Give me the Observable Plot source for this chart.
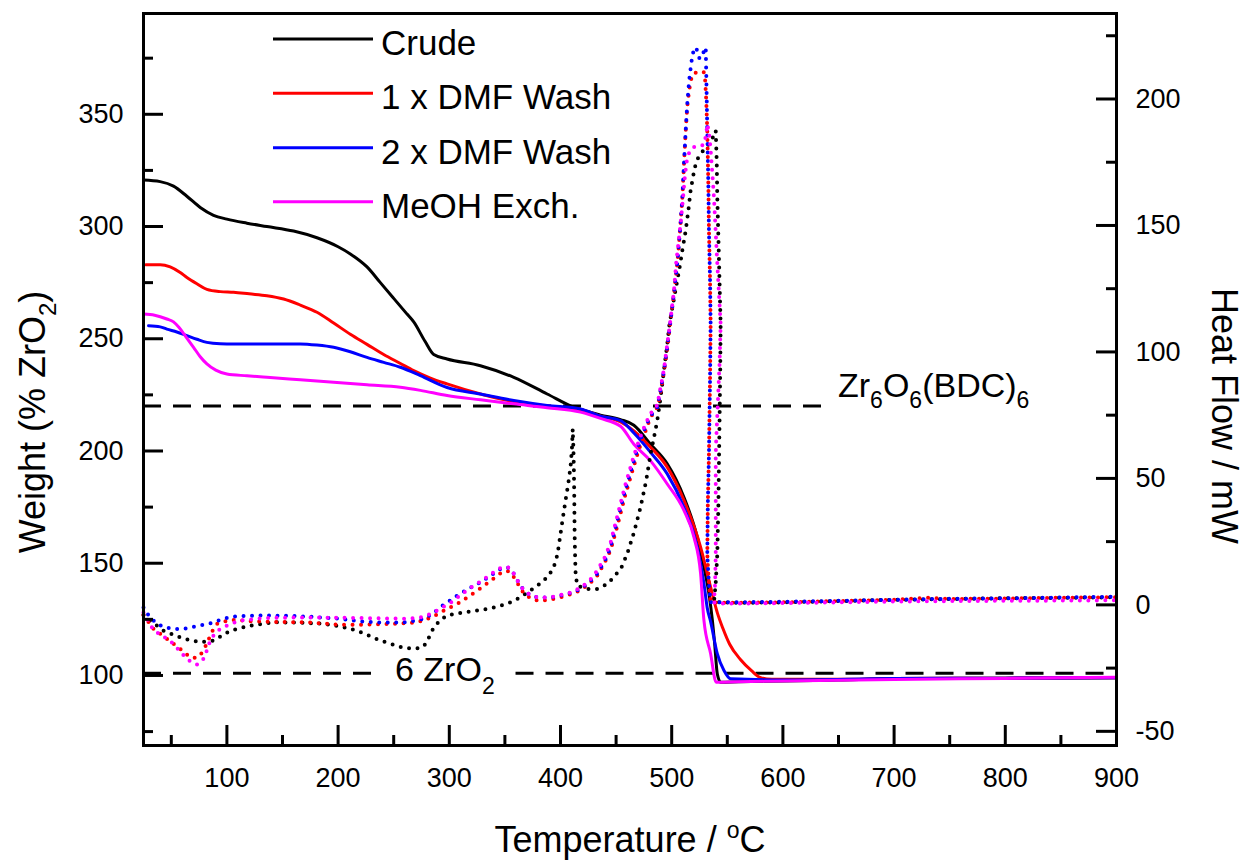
<!DOCTYPE html>
<html>
<head>
<meta charset="utf-8">
<script src="https://cdn.jsdelivr.net/npm/d3@7"></script>
<script src="https://cdn.jsdelivr.net/npm/@observablehq/plot@0.6"></script>
<style>
  html, body { margin: 0; padding: 0; background: #fff; }
  svg { display: block; }
</style>
</head>
<body>
<div id="chart"></div>
<script>
// ---------------- data ----------------
const seriesNames = ["Crude", "1 x DMF Wash", "2 x DMF Wash", "MeOH Exch."];
const seriesColors = ["#000000", "#ff0000", "#0000ff", "#ff00ff"];

// TGA weight (% ZrO2) vs temperature (°C)  [T, weight]
const crudeWeight = [[25,320.7],[40,320],[52,318],[64,313.5],[76,308.5],[88,305],[100,303.3],[118,301.5],[136,300],[160,298],[181,295],[200,291],[211,287.8],[226,282],[238,275],[250,268],[262,261],[268,257.5],[278,249],[286,243],[298,241],[328,238],[358,232.8],[388,225.4],[412,219.5],[436,216],[454,214],[466,211.5],[481,203],[496,194.3],[511,179.4],[523,161.6],[529,148.2],[533.5,136.4],[536.6,124.5],[538.5,115],[541,100.7],[544,97],[560,97.2],[600,97.5],[650,98],[700,98.6],[800,98.8],[900,99]];
const dmf1Weight = [[27,283],[40,283],[49,282],[58,279.5],[64,277.3],[73,274.5],[82,272],[94,271],[106,270.7],[120,270],[136,269.2],[151,267.7],[166,265],[181,261.8],[196,257],[211,252],[226,247.5],[241,243],[256,239],[268,235.8],[283,232.5],[298,229.9],[328,225.4],[358,222],[388,220],[418,218.5],[436,215.5],[454,213],[466,209],[481,201.7],[496,192.8],[511,178],[526,157.2],[535,139.3],[541,128],[546,121],[552,114],[562,107],[572,102],[580,99],[590,98.3],[650,98.3],[700,98.6],[800,98.8],[900,99]];
const dmf2Weight = [[29.5,255.8],[40,255.3],[46,254.3],[55,253],[64,251.4],[73,249.8],[82,248.4],[94,247.8],[106,247.7],[136,247.7],[166,247.7],[181,247.2],[196,246.2],[211,244.2],[226,241.7],[241,239.5],[256,237.3],[274,233.6],[298,228.3],[328,225.4],[358,222.5],[388,220.3],[418,218.7],[436,215.5],[454,213.5],[466,208],[481,199.4],[496,189.8],[511,174.9],[523,157.2],[529,141],[532,130],[535,124],[541,109.7],[547,102.2],[553,98.5],[600,98],[700,98.6],[800,98.8],[900,99]];
const meohWeight = [[25,261],[35,260.5],[46,258.8],[52,257.5],[57,255],[63,251],[70,246.2],[76,242],[82,238.8],[90,236],[100,234.3],[118,233.5],[136,232.8],[166,231.7],[196,230.6],[226,229.5],[256,228.4],[274,227],[298,224.7],[328,222.8],[358,221],[388,219.3],[418,217.3],[436,214.5],[454,211],[466,203],[481,195.6],[496,185.3],[511,173.5],[520,161.6],[526,145.3],[529,124.5],[535,109.7],[540,97],[560,97.2],[600,97.5],[700,98.2],[800,98.7],[900,99.2]];

// DSC heat flow (mW) vs temperature (°C)  [T, heat flow]
const crudeHeat = [[25,-4],[31,-6.2],[43,-10.2],[61,-13.4],[76,-14.8],[88,-14.1],[103,-10.2],[121,-8.2],[142,-6.9],[165,-7],[187,-7.5],[202,-8.5],[217,-10.2],[238,-14.1],[259,-17],[270,-17.3],[277,-16.5],[281,-13.5],[286,-8.9],[292,-6],[298,-4.2],[304,-3.6],[319,-2.6],[334,-1.6],[345,-0.5],[355,1],[364,3],[373,5.7],[381,8.2],[388,10.9],[393,14],[396,17.5],[398,22],[400,28],[402,34],[404.5,41.2],[407,48],[409,54.4],[410.3,62],[411,69.5],[411.6,62],[412,54.4],[412.4,42],[412.7,28],[413.2,18],[413.6,12.3],[415,7.6],[423,6.3],[433,6.3],[441,8],[448,10.9],[455,15],[460,20.2],[466,28.5],[472,38.6],[477,49],[481,59.7],[484,66],[487,72.8],[490,82],[493,92.6],[496,103],[498,111],[502,121],[506.6,132],[509.5,140],[512.6,148],[515,156],[517,163.8],[519.5,170],[521.6,174.3],[524,177],[526,178.3],[529,180],[533,182],[536,184],[538.5,186],[539.6,187.5],[540.5,175],[541,161],[542,145],[543,128],[544,111],[543.7,95],[543.2,78],[542.6,59.7],[542,40],[541,20],[539.5,8],[538,1],[545,1],[560,0.8],[600,1],[650,1.5],[700,2],[750,2.3],[800,2.6],[850,2.8],[900,3]];
const dmf1Heat = [[25,-4],[34,-9.5],[46,-13.4],[58,-17.4],[67,-20.7],[72,-21],[76,-20],[82,-15.4],[86,-11],[91,-7.5],[103,-5.9],[127,-6.6],[150,-6.8],[172,-6.9],[202,-7.9],[225,-7.8],[247,-7.5],[265,-7.2],[277,-6.2],[288,-4],[298,-1.6],[307,0.3],[318,3.5],[328,6.5],[337,9.5],[346,12.5],[352,13.5],[356,12.5],[360,9.5],[367,4.5],[374,2.3],[382,1.5],[392,2.2],[400,3],[410,4.3],[418,5.8],[426,8.3],[433,11.5],[440,17],[445,21.5],[451,31],[458,43],[466,55],[471,62],[475,67],[480,73],[484,76.5],[487,78],[490,84],[493,92],[496,101],[499,112.4],[502,123],[505,134.8],[507.5,148],[509.6,161],[511,174],[512.6,187.5],[514,197],[515.6,203],[517,207],[519,209.9],[522,210.5],[526,211],[529,210.5],[530,208],[531,200],[532,187.5],[533,165],[533.5,148],[534.5,128],[535,111],[534.5,90],[533.5,59.7],[532.5,40],[532,20],[533.5,8],[535,1],[545,0.8],[600,1],[650,1.5],[700,2],[730,2.8],[750,2.3],[800,2.5],[850,2.8],[900,3]];
const dmf2Heat = [[25,-1],[30,-4.5],[37,-7.5],[45,-9],[52,-9.5],[60,-9.5],[67,-9],[74.5,-8.2],[81,-7.8],[88,-6.9],[97,-5.5],[106,-4.6],[127,-4.2],[150,-4.3],[172,-4.6],[202,-5.5],[217,-6.4],[232,-6.9],[247,-7],[262,-6.9],[277,-5.5],[285,-3.5],[292,-0.9],[300,1.5],[307,3.7],[318,6.5],[328,8.9],[337,11.5],[346,14.2],[352,14.9],[356,14],[360,10.5],[367,5.7],[374,3.5],[382,2.8],[392,3],[400,3.7],[410,4.8],[418,6.3],[426,9],[433,12.3],[440,17.5],[445,22.8],[451,33.3],[458,45],[466,57],[471,64],[475,68.9],[480,74],[484,76.5],[487,78.1],[490,85],[493,92.6],[496,102],[499,112.4],[502,123],[505,134.8],[507.5,148],[509.6,161],[511,174],[512.6,187.5],[514,198],[515.6,207],[517,212],[518.5,217],[520,219.5],[521.6,220.4],[523,219],[525,216],[527,216.5],[529,219],[530.6,220.4],[531.3,205],[532,187.5],[533,165],[533.5,148],[534.5,128],[535,111],[534.5,90],[533.5,59.7],[532.5,40],[532,20],[533.5,8],[535,1],[545,1],[600,1.2],[650,1.6],[700,2],[750,2.4],[800,2.6],[850,2.9],[900,3.2]];
const meohHeat = [[25,-3],[34,-10],[43,-12.5],[52,-15.4],[58,-18.5],[64,-21.3],[69,-23],[73,-23.6],[76,-23],[79,-21.3],[82,-18],[85,-14.1],[89,-11.5],[94,-9.5],[103,-7.5],[112,-6.2],[127,-5.5],[142,-5.1],[172,-5],[202,-5.1],[232,-5.3],[262,-5.5],[274,-5],[283,-3.6],[292,-1.5],[301,0.8],[310,3.8],[318,6.5],[328,9.2],[337,12],[346,14.6],[352,15],[356,14],[360,10.5],[367,5.7],[374,3.5],[382,2.8],[392,3.1],[400,3.9],[410,5],[418,6.8],[426,9.5],[433,13.5],[440,19],[445,24.5],[451,35],[458,47],[466,59],[471,65.5],[475,70],[480,75],[484,77.5],[487,79],[490,86],[493,93],[496,103],[499,113],[502,124],[504,135],[506,143],[508,150.6],[510,160],[512,170],[514,177],[517,180],[520,181],[523,181.5],[526,181.5],[529,182],[531,186],[532,190],[533.5,187],[535,180],[536.5,171],[538,161],[539.5,148],[541,135],[542.5,123],[544,111],[543,95],[541.5,80],[540,65],[539.6,59.7],[539.6,40],[539.6,20],[539,8],[538,1],[545,0.5],[600,0.7],[650,1],[700,1.3],[750,1.5],[800,1.6],[850,1.7],[900,1.8]];

// axes
const tempDomain = [25, 900];
const weightDomain = [68.8, 394.9];
const heatDomain = [-55.6, 233.8];
const tempTicks = [100, 200, 300, 400, 500, 600, 700, 800, 900];
const tempMinorTicks = [50, 150, 250, 350, 450, 550, 650, 750, 850];
const weightTicks = [100, 150, 200, 250, 300, 350];
const weightMinorTicks = [75, 125, 175, 225, 275, 325, 375];
const heatTicks = [-50, 0, 50, 100, 150, 200];
const heatMinorTicks = [-25, 25, 75, 125, 175, 225];

// reference levels (dashed): weight level, start T, end T
const refWeights = [220, 101, 101];
const refStarts = [25, 25, 360];
const refEnds = [643, 238, 900];

// ---------------- build ----------------
const W = 1245, H = 863;
const mL = 143, mR = 129, mT = 13, mB = 118;
const plotW = W - mL - mR, plotH = H - mT - mB;
const FONT = "'Liberation Sans', Arial, Helvetica, sans-serif";

const toW = h => weightDomain[0] + (h - heatDomain[0]) / (heatDomain[1] - heatDomain[0]) * (weightDomain[1] - weightDomain[0]);
const fromW = w => heatDomain[0] + (w - weightDomain[0]) / (weightDomain[1] - weightDomain[0]) * (heatDomain[1] - heatDomain[0]);

const weightSeries = [crudeWeight, dmf1Weight, dmf2Weight, meohWeight];
const heatSeries = [crudeHeat, dmf1Heat, dmf2Heat, meohHeat];
const refRows = refWeights.map((w, i) => ({w, from: refStarts[i], to: refEnds[i]}));

const weightMarks = weightSeries.map((arr, i) =>
  Plot.line(arr.map(([T, v]) => ({T, v})), {
    x: "T", y: "v", stroke: seriesColors[i], strokeWidth: 3, curve: "monotone-x"
  })
);
const heatMarks = heatSeries.map((arr, i) =>
  Plot.line(arr.map(([T, v]) => ({T, v})), {
    x: "T", y: d => toW(d.v), stroke: seriesColors[i], strokeWidth: 4,
    strokeDasharray: "0,8.5", strokeLinecap: "round", curve: "linear"
  })
);

const chart = Plot.plot({
  width: W, height: H,
  marginLeft: mL, marginRight: mR, marginTop: mT, marginBottom: mB,
  x: {domain: tempDomain},
  y: {domain: weightDomain},
  style: {fontFamily: FONT, background: "white", color: "black"},
  marks: [
    Plot.ruleY(refRows, {y: "w", x1: "from", x2: "to", stroke: "black", strokeWidth: 3, strokeDasharray: "18,12"}),
    ...weightMarks,
    ...heatMarks,
    Plot.frame({stroke: "black", strokeWidth: 3}),
    // inward ticks
    Plot.tickY(weightTicks, {y: d => d, insetRight: plotW - 20, stroke: "black", strokeWidth: 3}),
    Plot.tickY(weightMinorTicks, {y: d => d, insetRight: plotW - 10, stroke: "black", strokeWidth: 3}),
    Plot.tickY(heatTicks.map(toW), {y: d => d, insetLeft: plotW - 20, stroke: "black", strokeWidth: 3}),
    Plot.tickY(heatMinorTicks.map(toW), {y: d => d, insetLeft: plotW - 10, stroke: "black", strokeWidth: 3}),
    Plot.tickX(tempTicks, {x: d => d, insetTop: plotH - 20, stroke: "black", strokeWidth: 3}),
    Plot.tickX(tempMinorTicks, {x: d => d, insetTop: plotH - 10, stroke: "black", strokeWidth: 3}),
    // tick labels
    Plot.axisX(tempTicks, {anchor: "bottom", tickSize: 0, tickPadding: 22, fontSize: 27, tickFormat: d => String(d), label: null}),
    Plot.axisY(weightTicks, {anchor: "left", tickSize: 0, tickPadding: 20, fontSize: 27, tickFormat: d => String(d), label: null}),
    Plot.axisY(heatTicks.map(toW), {anchor: "right", tickSize: 0, tickPadding: 19, fontSize: 27, tickFormat: w => String(Math.round(fromW(w))), label: null})
  ]
});

document.getElementById("chart").appendChild(chart);

// ---------------- text annotations, titles, legend ----------------
const svg = d3.select(chart);
const xs = chart.scale("x"), ys = chart.scale("y");

function addText(g, parts, attrs) {
  const t = g.append("text").attr("font-family", FONT).attr("fill", "black").attr("text-anchor", "start");
  Object.entries(attrs).forEach(([k, v]) => t.attr(k, v));
  parts.forEach(p => {
    const s = t.append("tspan").text(p.t);
    if (p.size) s.attr("font-size", p.size);
    if (p.dy) s.attr("dy", p.dy);
  });
  return t;
}

// Zr6O6(BDC)6 label
addText(svg, [
  {t: "Zr"}, {t: "6", size: 23, dy: 11}, {t: "O", dy: -11}, {t: "6", size: 23, dy: 11},
  {t: "(BDC)", dy: -11}, {t: "6", size: 23, dy: 11}
], {x: xs.apply(650), y: ys.apply(220) - 8.5, "font-size": 34});

// 6 ZrO2 label
addText(svg, [
  {t: "6 ZrO"}, {t: "2", size: 23, dy: 13}
], {x: xs.apply(251.6), y: ys.apply(101) + 8.5, "font-size": 34});

// x-axis title
addText(svg, [
  {t: "Temperature / "}, {t: "o", size: 23, dy: -14}, {t: "C", dy: 14}
], {x: 630, y: 852, "font-size": 36, "text-anchor": "middle"});

// left title
addText(svg, [
  {t: "Weight (% ZrO"}, {t: "2", size: 24, dy: 11}, {t: ")", dy: -11}
], {transform: "translate(45,422) rotate(-90)", "font-size": 36, "text-anchor": "middle"});

// right title
addText(svg, [{t: "Heat Flow / mW"}],
  {transform: "translate(1212,416) rotate(90)", "font-size": 36, "text-anchor": "middle"});

// legend
const legendY = [39, 93.3, 147.7, 201.7];
const lg = svg.append("g");
seriesNames.forEach((name, i) => {
  lg.append("line").attr("x1", 273).attr("x2", 373).attr("y1", legendY[i]).attr("y2", legendY[i])
    .attr("stroke", seriesColors[i]).attr("stroke-width", 3);
  lg.append("text").attr("x", 381).attr("y", legendY[i] + 16).attr("font-family", FONT)
    .attr("font-size", 35).attr("fill", "black").attr("text-anchor", "start").text(name);
});
</script>
</body>
</html>
